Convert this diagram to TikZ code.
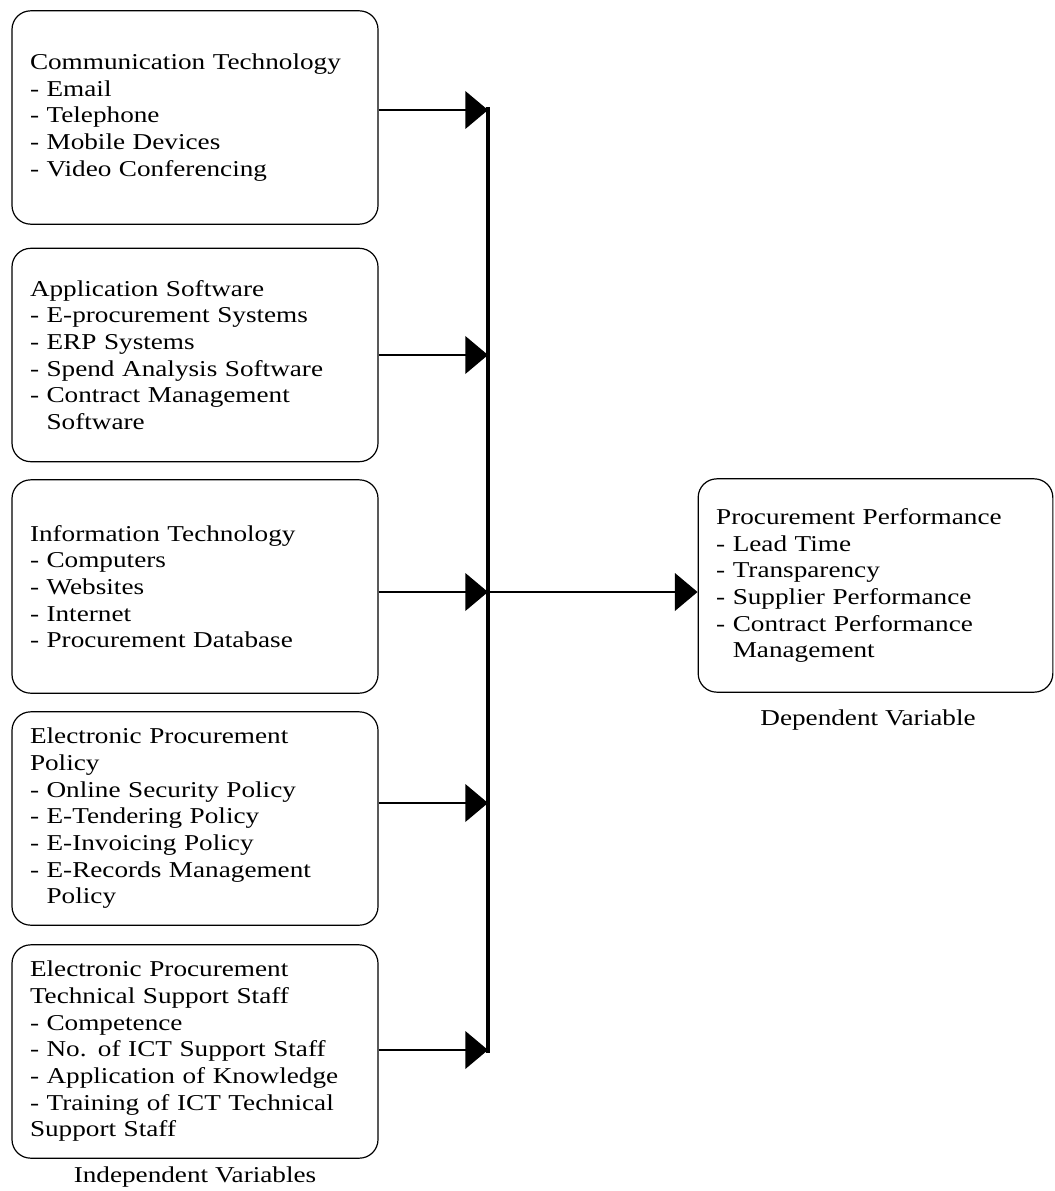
\documentclass[tikz,border=0pt]{standalone}
\usepackage{fontspec}
\setmainfont{Liberation Serif}[FakeStretch=1.2]
\usetikzlibrary{arrows.meta}
\begin{document}
\begin{tikzpicture}[x=0.75pt,y=-0.75pt,
                every node/.append style={black},
                varbox/.style={draw,line width=0.9pt,rounded corners=14pt,minimum width=274.5pt,minimum height=160pt,
                    text width=247.5pt,inner xsep=13.5pt,inner ysep=0pt,align=left,font=\fontsize{17}{20}\selectfont},
                feed/.style={line width=2.2pt,-{Triangle[length=17pt,width=28pt]}},
                caption/.style={font=\fontsize{17}{20}\selectfont}
            ]
                \useasboundingbox (0,0) rectangle (1055,1191);
                \node[varbox] (comm) at (195,117.5) {Communication Technology\\- Email\\- Telephone\\- Mobile Devices\\- Video Conferencing};
                \node[varbox] (soft) at (195,355) {Application Software\\- E-procurement Systems\\- ERP Systems\\- Spend Analysis Software\\- Contract Management\\\phantom{- }Software};
                \node[varbox] (info) at (195,586.5) {Information Technology\\- Computers\\- Websites\\- Internet\\- Procurement Database};
                \node[varbox] (policy) at (195,818.5) {Electronic Procurement\\Policy\\- Online Security Policy\\- E-Tendering Policy\\- E-Invoicing Policy\\- E-Records Management\\\phantom{- }Policy};
                \node[varbox] (staff) at (195,1051.5) {Electronic Procurement\\Technical Support Staff\\- Competence\\- No. of ICT Support Staff\\- Application of Knowledge\\- Training of ICT Technical\\Support Staff};
                \node[varbox,minimum width=266pt,text width=239pt] (perf) at (875.5,585.5) {Procurement Performance\\- Lead Time\\- Transparency\\- Supplier Performance\\- Contract Performance\\\phantom{- }Management};
                \node[caption] (indep) at (195,1177) {Independent Variables};
                \node[caption] (dep) at (868,720) {Dependent Variable};
                % spine
                \coordinate (top) at (488,107);
                \coordinate (bottom) at (488,1053);
                \coordinate (s1) at (488,110);
                \coordinate (s2) at (488,355);
                \coordinate (s3) at (488,592);
                \coordinate (s4) at (488,803);
                \coordinate (s5) at (488,1050);
                \draw[line width=3.5pt] (top) -- (bottom);
                \draw[feed] (comm.east |- s1) -- (s1);
                \draw[feed] (soft.east |- s2) -- (s2);
                \draw[feed] (info.east |- s3) -- (s3);
                \draw[feed] (policy.east |- s4) -- (s4);
                \draw[feed] (staff.east |- s5) -- (s5);
                \draw[feed] (s3) -- (perf.west |- s3);
            \end{tikzpicture}
\end{document}
